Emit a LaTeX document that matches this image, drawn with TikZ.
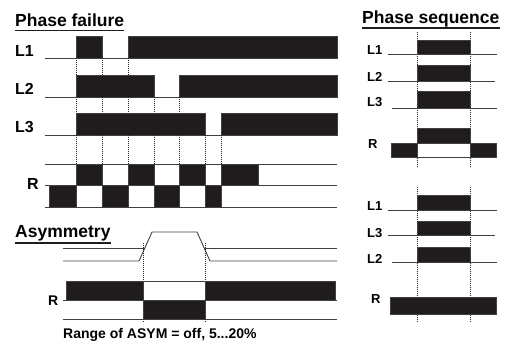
\documentclass[tikz,border=0pt]{standalone}
\usepackage{fontspec}
\setmainfont{Liberation Sans}
\definecolor{ink}{RGB}{32,28,29}
\begin{document}
\begin{tikzpicture}[x=1pt, y=-1pt,
	trace/.style={draw=black!75, line width=0.9pt},
	bar/.style={fill=ink, draw=black!75, line width=0.6pt},
	guide/.style={draw=black!85, densely dotted, line width=1pt},
	uline/.style={draw=ink, line width=1.1pt},
	title/.style={anchor=base west, inner sep=0pt, font=\fontsize{17.5}{20}\selectfont\bfseries},
	sig/.style={anchor=base west, inner sep=0pt, font=\fontsize{16}{18}\selectfont\bfseries},
	sigsmall/.style={anchor=base west, inner sep=0pt, font=\fontsize{13}{15}\selectfont\bfseries}]

	\useasboundingbox (0,0) rectangle (505,344);

	% --- PHASE FAILURE ---
	\begin{scope}
		\node[title] (tPF) at (15,27) {Phase failure};
		\draw[uline] ([yshift=-3.5pt]tPF.base west) -- ([yshift=-3.5pt]tPF.base east);

		% Labels
		\node[sig] (pfL1) at (15,57) {L1};
		\node[sig] (pfL2) at (15,95) {L2};
		\node[sig] (pfL3) at (15,133) {L3};
		\node[sig] (pfR) at (27,190) {R};

		% L1
		\draw[trace] (45,58) -- (337,58);
		\filldraw[bar] (76,36) rectangle (102,58);
		\filldraw[bar] (128,36) rectangle (337,58);
		% L2
		\draw[trace] (45,97) -- (337,97);
		\filldraw[bar] (76,75) rectangle (154,97);
		\filldraw[bar] (179,75) rectangle (337,97);
		% L3
		\draw[trace] (45,135) -- (337,135);
		\filldraw[bar] (76,113) rectangle (205,135);
		\filldraw[bar] (221,113) rectangle (337,135);

		% Repères
		\draw[guide] (76,58) -- (76,75);
		\draw[guide] (102,58) -- (102,75);
		\draw[guide] (128,58) -- (128,75);
		\draw[guide] (76,97) -- (76,113);
		\draw[guide] (102,97) -- (102,113);
		\draw[guide] (128,97) -- (128,113);
		\draw[guide] (154,97) -- (154,113);
		\draw[guide] (179,97) -- (179,113);
		\draw[guide] (76,135) -- (76,164);
		\draw[guide] (102,135) -- (102,164);
		\draw[guide] (128,135) -- (128,164);
		\draw[guide] (154,135) -- (154,164);
		\draw[guide] (179,135) -- (179,164);
		\draw[guide] (205,135) -- (205,164);
		\draw[guide] (221,135) -- (221,164);

		% Relais R
		\draw[trace] (45,164) -- (337,164);
		\draw[trace] (45,185) -- (337,185);
		\draw[trace] (45,207) -- (337,207);
		\filldraw[bar] (76,164) rectangle (102,185);
		\filldraw[bar] (128,164) rectangle (154,185);
		\filldraw[bar] (179,164) rectangle (205,185);
		\filldraw[bar] (221,164) rectangle (258,185);
		\filldraw[bar] (49,185) rectangle (76,207);
		\filldraw[bar] (102,185) rectangle (128,207);
		\filldraw[bar] (154,185) rectangle (179,207);
		\filldraw[bar] (205,185) rectangle (221,207);
	\end{scope}

	% --- ASYMMETRY ---
	\begin{scope}
		\node[title] (tAS) at (15,238) {Asymmetry};
		\draw[uline] ([yshift=-5pt]tAS.base west) -- ([yshift=-5pt]tAS.base east);

		% Tension
		\draw[trace] (63,248) -- (145,248);
		\draw[trace] (204,248) -- (337,248);
		\draw[trace] (63,261) -- (139,261) -- (152,232) -- (197,232) -- (210,261) -- (337,261);

		% Repères
		\draw[guide] (143,243) -- (143,322);
		\draw[guide] (205,243) -- (205,322);

		% Relais R
		\node[sig, font=\fontsize{14}{16}\selectfont\bfseries] (asR) at (48,305) {R};
		\draw[trace] (66,281) -- (335,281);
		\draw[trace] (63,300) -- (337,300);
		\draw[trace] (63,319) -- (337,319);
		\filldraw[bar] (66,281) rectangle (143,300);
		\filldraw[bar] (205,281) rectangle (335,300);
		\filldraw[bar] (143,300) rectangle (205,319);

		\node[anchor=base west, inner sep=0pt, font=\fontsize{14}{16}\selectfont\bfseries] (asRange) at (63,338) {Range of ASYM = off, 5...20\%};
	\end{scope}

	% --- PHASE SEQUENCE ---
	\begin{scope}
		\node[title] (tPS) at (362,24) {Phase sequence};
		\draw[uline] ([yshift=-4pt]tPS.base west) -- ([yshift=-4pt]tPS.base east);

		% Ordre correct
		\draw[guide] (417,32) -- (417,167);
		\draw[guide] (470,32) -- (470,167);
		\node[sigsmall] (psL1) at (367,55) {L1};
		\node[sigsmall] (psL2) at (367,82) {L2};
		\node[sigsmall] (psL3) at (367,107) {L3};
		\node[sigsmall] (psR) at (368,149) {R};
		\draw[trace] (388,54) -- (497,54);
		\filldraw[bar] (417,40) rectangle (470,54);
		\draw[trace] (388,81) -- (495,81);
		\filldraw[bar] (417,65) rectangle (470,81);
		\draw[trace] (392,108) -- (497,108);
		\filldraw[bar] (417,91) rectangle (470,108);
		\draw[trace] (391,143) -- (496,143);
		\draw[trace] (391,157) -- (496,157);
		\filldraw[bar] (417,128) rectangle (470,143);
		\filldraw[bar] (391,143) rectangle (417,157);
		\filldraw[bar] (470,143) rectangle (496,157);

		% Ordre inversé
		\draw[guide] (417,187) -- (417,323);
		\draw[guide] (470,187) -- (470,323);
		\node[sigsmall] (pqL1) at (367,211) {L1};
		\node[sigsmall] (pqL3) at (367,238) {L3};
		\node[sigsmall] (pqL2) at (367,263) {L2};
		\node[sigsmall] (pqR) at (371,303) {R};
		\draw[trace] (388,210) -- (497,210);
		\filldraw[bar] (417,195) rectangle (470,210);
		\draw[trace] (388,235) -- (495,235);
		\filldraw[bar] (417,221) rectangle (470,235);
		\draw[trace] (392,262) -- (497,262);
		\filldraw[bar] (417,247) rectangle (470,262);
		\filldraw[bar] (390,297) rectangle (496,314);
	\end{scope}
\end{tikzpicture}
\end{document}
